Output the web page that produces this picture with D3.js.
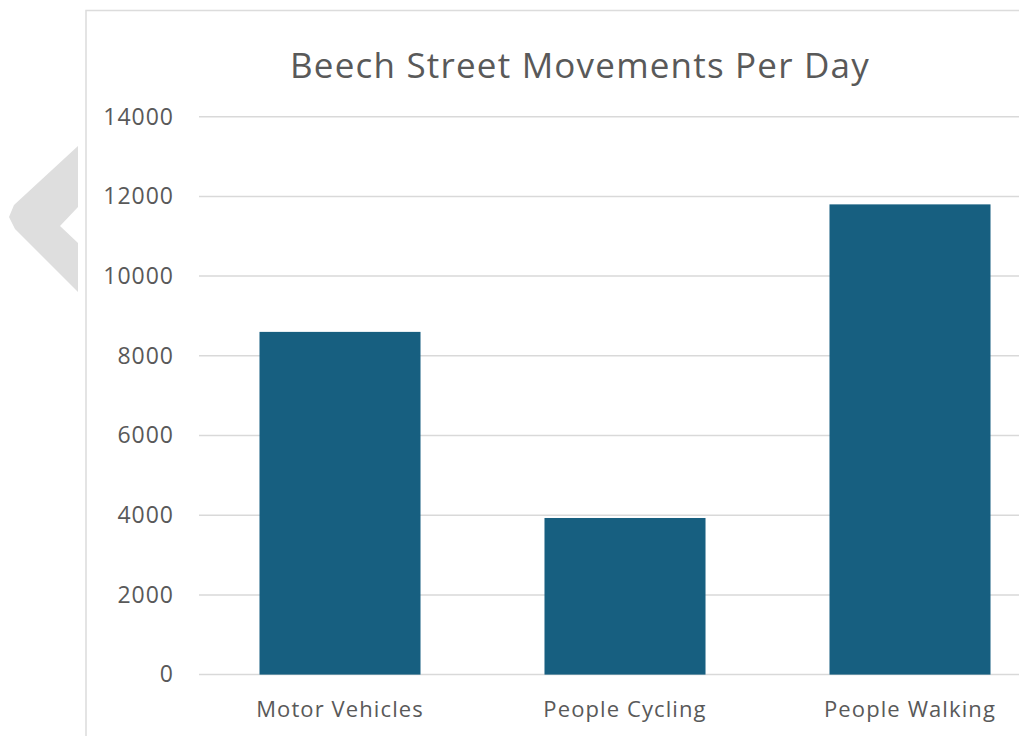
<!DOCTYPE html>
<html>
<head>
<meta charset="utf-8">
<script src="https://cdn.jsdelivr.net/npm/d3@7"></script>
<style>
  body { margin: 0; background: #fff; }
  svg { display: block; font-family: "Open Sans", sans-serif; }
</style>
</head>
<body>
<svg id="chart"></svg>
<script>
const width = 1019, height = 736;

// data
const categories = ['Motor Vehicles', 'People Cycling', 'People Walking'];
const movements = [8600, 3930, 11800];
const yTicks = [0, 2000, 4000, 6000, 8000, 10000, 12000, 14000];
const title = 'Beech Street Movements Per Day';

const svg = d3.select('#chart')
  .attr('width', width)
  .attr('height', height);

// back arrow shape on the left
const arrow = [[78, 146], [14, 205], [9, 217], [15, 229], [78, 292], [78, 243], [60, 226], [78, 207]];
svg.append('path')
  .attr('d', d3.line()(arrow) + 'Z')
  .attr('fill', '#dedede');

// chart frame
svg.append('path')
  .attr('d', 'M86,' + height + 'V10.5H' + width)
  .attr('fill', 'none')
  .attr('stroke', '#dcdcdc')
  .attr('stroke-width', 1.5);

const y = d3.scaleLinear()
  .domain([0, 14000])
  .range([674.6, 116.7]);

const x = d3.scaleBand()
  .domain(categories)
  .range([197.5, 1052.5])
  .paddingInner(0.435)
  .paddingOuter(0.2175);

// gridlines
svg.append('g').selectAll('line')
  .data(yTicks)
  .join('line')
    .attr('x1', 199)
    .attr('x2', width)
    .attr('y1', d => y(d))
    .attr('y2', d => y(d))
    .attr('stroke', '#d9d9d9')
    .attr('stroke-width', 1.5);

// y axis labels
const yAxis = svg.append('g')
  .attr('transform', 'translate(174,0)')
  .call(d3.axisLeft(y).tickValues(yTicks).tickSize(0).tickPadding(0).tickFormat(d3.format('d')));
yAxis.select('.domain').remove();
yAxis.selectAll('text')
  .attr('fill', '#595959')
  .style('font-size', '23px')
  .style('letter-spacing', '1px')
  .style('font-family', '"Open Sans", sans-serif');

// bars
svg.append('g').selectAll('rect')
  .data(movements)
  .join('rect')
    .attr('x', (d, i) => x(categories[i]))
    .attr('y', d => y(d))
    .attr('width', x.bandwidth())
    .attr('height', d => y(0) - y(d))
    .attr('fill', '#175f80');

// x axis labels
const xAxis = svg.append('g')
  .attr('transform', 'translate(0,' + y(0) + ')')
  .call(d3.axisBottom(x).tickSize(0).tickPadding(27));
xAxis.select('.domain').remove();
xAxis.selectAll('text')
  .attr('fill', '#595959')
  .style('font-size', '22px')
  .style('letter-spacing', '1.1px')
  .style('font-family', '"Open Sans", sans-serif');

// title
svg.append('text')
  .attr('x', 580)
  .attr('y', 78)
  .attr('text-anchor', 'middle')
  .attr('fill', '#595959')
  .style('font-size', '35px')
  .style('letter-spacing', '1.2px')
  .text(title);
</script>
</body>
</html>
